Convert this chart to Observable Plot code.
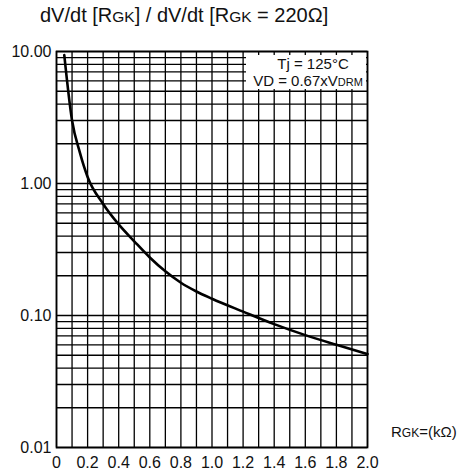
<!DOCTYPE html>
<html>
<head>
<meta charset="utf-8">
<script src="https://cdn.jsdelivr.net/npm/d3@7"></script>
<script src="https://cdn.jsdelivr.net/npm/@observablehq/plot@0.6"></script>
<style>
  html, body { margin: 0; padding: 0; background: #fff; }
  body { width: 470px; height: 472px; position: relative; overflow: hidden;
         font-family: "Liberation Sans", Arial, sans-serif; color: #111; }
  #title { position: absolute; left: 40px; top: 4px; font-size: 20px; white-space: nowrap; }
  .sc { font-size: 15.5px; }
  #chart { position: absolute; left: 0; top: 40px; }
  #legend { position: absolute; left: 246px; top: 55px; width: 120px; height: 34px;
            background: #fff; font-size: 15px; text-align: center; line-height: 17px; }
  #xlabel { position: absolute; left: 391px; top: 423px; font-size: 15px; white-space: nowrap; }
</style>
</head>
<body>
<div id="title">dV/dt [R<span class="sc">GK</span>] / dV/dt [R<span class="sc">GK</span> = 220Ω]</div>
<div id="chart"></div>
<div id="legend"><div style="padding-left:14px">Tj = 125°C</div><div style="margin-left:4px">VD = 0.67xV<span style="font-size:11px">DRM</span></div></div>
<div id="xlabel">R<span style="font-size:12px">GK</span>=(kΩ)</div>
<script>
// Curve: dV/dt ratio vs gate-cathode resistance (kΩ)
const rgk = [0.05, 0.1, 0.15, 0.2, 0.3, 0.4, 0.5, 0.6, 0.7, 0.8, 0.9, 1.0, 1.2, 1.4, 1.6, 1.8, 2.0];
const ratio = [9.4, 3.0, 1.72, 1.12, 0.70, 0.49, 0.365, 0.275, 0.216, 0.177, 0.152, 0.134, 0.107, 0.086, 0.071, 0.060, 0.051];

// Axis ticks and labels
const xTicks = [0, 0.2, 0.4, 0.6, 0.8, 1.0, 1.2, 1.4, 1.6, 1.8, 2.0];
const xTickLabels = ["0", "0.2", "0.4", "0.6", "0.8", "1.0", "1.2", "1.4", "1.6", "1.8", "2.0"];
const yTicks = [0.01, 0.1, 1, 10];
const yTickLabels = ["0.01", "0.10", "1.00", "10.00"];

// Grid lines
const xGrid = d3.range(0, 21).map(i => i / 10);
const yGrid = [0.01, 0.1, 1].flatMap(d => [1,2,3,4,5,6,7,8,9].map(k => +(d * k).toPrecision(3))).concat([10]);

const data = rgk.map((r, i) => ({r, v: ratio[i]}));

const chart = Plot.plot({
  width: 470,
  height: 432,
  marginLeft: 56,
  marginRight: 103,
  marginTop: 11,
  marginBottom: 25,
  style: {fontFamily: "'Liberation Sans', Arial, sans-serif", fontSize: "16px", color: "#111", background: "transparent"},
  x: {domain: [0, 2], ticks: xTicks, tickFormat: d => xTickLabels[xTicks.findIndex(t => Math.abs(t - d) < 1e-9)], tickSize: 0, tickPadding: 9, label: null},
  y: {type: "log", domain: [0.01, 10], ticks: yTicks, tickFormat: d => yTickLabels[yTicks.findIndex(t => Math.abs(t - d) < 1e-12)], tickSize: 0, tickPadding: 5, label: null},
  marks: [
    Plot.ruleX(xGrid, {stroke: "#000", strokeWidth: 1.3}),
    Plot.ruleY(yGrid, {stroke: "#000", strokeWidth: 1.3}),
    Plot.frame({stroke: "#000", strokeWidth: 1.7}),
    Plot.line(data, {x: "r", y: "v", curve: "monotone-x", stroke: "#000", strokeWidth: 2.6})
  ]
});
document.getElementById("chart").appendChild(chart);
</script>
</body>
</html>
